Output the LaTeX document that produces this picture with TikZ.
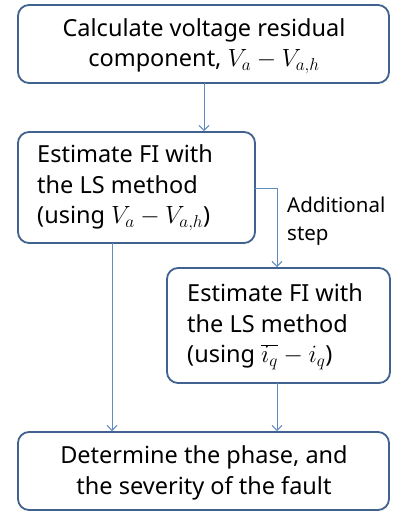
\documentclass[tikz,border=0pt]{standalone}
\usepackage{fontspec}
\setmainfont{Noto Sans}
\usetikzlibrary{arrows.meta}
\definecolor{boxline}{HTML}{41618F}
\definecolor{flowline}{HTML}{5E8BC0}
\tikzset{
  stepbox/.style={draw=boxline, line width=1.8pt, rounded corners=11pt, fill=white},
  flow/.style={draw=flowline, line width=0.9pt, -{Straight Barb[length=5pt,width=10pt]}},
  txt/.style={font=\fontsize{23.5}{30.5}\selectfont, inner sep=0pt},
}
\begin{document}
\begin{tikzpicture}[x=1pt,y=-1pt]
\useasboundingbox (0,0) rectangle (397,512);
% boxes
\draw[stepbox] (18,5) rectangle (389,83);
\node[txt, align=center] (t1) at (204,46) {Calculate voltage residual\\component, $V_a - V_{a,h}$};

\draw[stepbox] (18,132) rectangle (255,243);
\node[txt, align=left, anchor=west] (t2) at (37,188) {Estimate FI with\\the LS method\\(using $V_a - V_{a,h}$)};

\draw[stepbox] (167,268) rectangle (390,383);
\node[txt, align=left, anchor=west] (t3) at (187,327) {Estimate FI with\\the LS method\\(using $\overline{i_q} - i_q$)};

\draw[stepbox] (18,432) rectangle (389,510);
\node[txt, align=center] (t4) at (204,473) {Determine the phase, and\\the severity of the fault};

% connectors
\coordinate (a1s) at (204,83);
\coordinate (a1e) at (204,131);
\draw[flow] (a1s) -- (a1e);
\coordinate (a2s) at (255,188);
\coordinate (a2e) at (277,267);
\draw[flow] (a2s) -| (a2e);
\node[txt, align=left, anchor=west, font=\fontsize{20.5}{28}\selectfont] (lab) at (287,221) {Additional\\step};
\coordinate (a3s) at (112,243);
\coordinate (a3e) at (112,431);
\draw[flow] (a3s) -- (a3e);
\coordinate (a4s) at (277,383);
\coordinate (a4e) at (277,431);
\draw[flow] (a4s) -- (a4e);
\end{tikzpicture}
\end{document}
